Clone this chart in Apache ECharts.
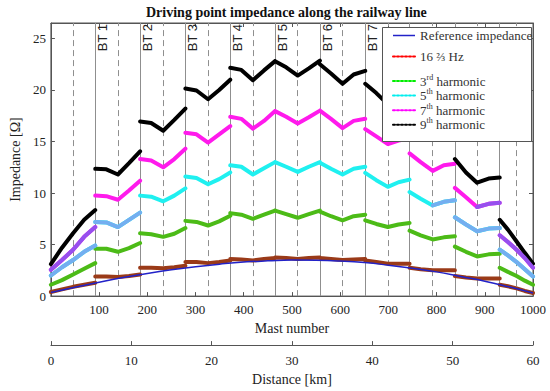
<!DOCTYPE html>
<html>
<head>
<meta charset="utf-8">
<script src="https://cdn.jsdelivr.net/npm/echarts@6/dist/echarts.min.js"></script>
<style>
html,body{margin:0;padding:0;background:#fff;}
#chart{width:550px;height:391px;}
</style>
</head>
<body>
<div id="chart"></div>
<script>
// ---- data ----
const masts = [
  [0, 23, 46, 69, 92],
  [92, 115, 139, 162, 185],
  [185, 208, 233, 256, 279],
  [279, 302, 326, 349, 372],
  [372, 395, 419, 442, 465],
  [465, 488, 512, 535, 558],
  [558, 581, 605, 628, 652],
  [652, 675, 699, 721, 744],
  [744, 767, 792, 815, 838],
  [838, 861, 884, 908, 931],
  [931, 948, 966, 983, 1000]
];
const btMasts = [92, 185, 279, 372, 465, 558, 652, 744, 838, 931];
const btLabels = ['BT 1', 'BT 2', 'BT 3', 'BT 4', 'BT 5', 'BT 6', 'BT 7', 'BT 8', 'BT 9', 'BT 10'];
const midMasts = [46, 139, 233, 326, 419, 512, 605, 699, 792, 884, 966];

const h9 = [
  [3.1, 4.7, 6.1, 7.4, 8.35],
  [12.35, 12.3, 11.8, 12.9, 14.05],
  [16.95, 16.8, 16.05, 17.1, 18.2],
  [20.15, 19.95, 19.1, 20.0, 21.0],
  [22.15, 21.95, 20.95, 21.9, 22.8],
  [22.8, 22.2, 21.4, 22.1, 22.85],
  [22.5, 21.6, 20.6, 21.5, 21.85],
  [20.6, 19.7, 18.6, 19.0, 19.2],
  [17.6, 16.5, 15.6, 15.9, 16.1],
  [13.3, 12.0, 11.0, 11.4, 11.5],
  [7.4, 6.45, 5.3, 4.2, 3.15]
];
const h7 = [
  [2.55, 3.5, 4.5, 5.75, 6.7],
  [9.75, 9.7, 9.35, 10.25, 11.2],
  [13.3, 13.15, 12.5, 13.3, 14.3],
  [15.85, 15.7, 14.9, 15.7, 16.5],
  [17.4, 17.2, 16.25, 17.0, 17.95],
  [17.95, 17.4, 16.75, 17.35, 18.0],
  [18.0, 17.2, 16.3, 17.0, 17.2],
  [16.2, 15.5, 14.75, 15.1, 15.3],
  [13.85, 13.0, 12.15, 12.7, 12.85],
  [10.5, 9.6, 8.65, 8.95, 9.05],
  [5.9, 5.25, 4.5, 3.7, 2.75]
];
const h5 = [
  [2.0, 2.8, 3.5, 4.3, 4.9],
  [7.2, 7.15, 6.7, 7.4, 8.1],
  [9.75, 9.65, 9.2, 9.75, 10.45],
  [11.6, 11.45, 10.85, 11.35, 12.0],
  [12.7, 12.55, 11.8, 12.4, 13.0],
  [13.0, 12.55, 12.05, 12.55, 13.0],
  [12.95, 12.35, 11.8, 12.35, 12.55],
  [11.95, 11.25, 10.6, 11.05, 11.3],
  [10.1, 9.45, 8.8, 9.15, 9.3],
  [7.65, 6.95, 6.3, 6.55, 6.6],
  [4.5, 3.95, 3.3, 2.6, 1.9]
];
const h3 = [
  [1.1, 1.55, 2.1, 2.65, 3.2],
  [4.6, 4.6, 4.3, 4.65, 5.15],
  [6.1, 6.0, 5.75, 6.05, 6.6],
  [7.3, 7.2, 6.85, 7.25, 7.8],
  [8.05, 7.9, 7.5, 7.9, 8.3],
  [8.3, 7.95, 7.6, 7.95, 8.3],
  [8.2, 7.75, 7.35, 7.75, 7.9],
  [7.35, 7.0, 6.7, 6.95, 7.1],
  [6.35, 5.9, 5.5, 5.7, 5.8],
  [4.8, 4.3, 3.85, 4.05, 4.1],
  [2.75, 2.35, 1.95, 1.5, 1.1]
];
const h1 = [
  [0.4, 0.65, 0.9, 1.1, 1.3],
  [1.9, 1.9, 1.85, 1.95, 2.1],
  [2.75, 2.75, 2.7, 2.8, 2.95],
  [3.3, 3.3, 3.2, 3.3, 3.45],
  [3.6, 3.55, 3.45, 3.6, 3.7],
  [3.75, 3.7, 3.6, 3.7, 3.75],
  [3.7, 3.6, 3.5, 3.55, 3.6],
  [3.45, 3.3, 3.15, 3.15, 3.15],
  [2.75, 2.6, 2.5, 2.5, 2.5],
  [1.95, 1.8, 1.7, 1.7, 1.7],
  [1.1, 0.95, 0.75, 0.5, 0.3]
];
const refMasts = [0, 50, 100, 150, 200, 250, 300, 350, 400, 450, 500, 550, 600, 650, 700, 750, 800, 850, 900, 950, 1000];
const refVals = [0.35, 0.85, 1.35, 1.8, 2.2, 2.55, 2.85, 3.1, 3.3, 3.42, 3.5, 3.48, 3.4, 3.25, 3.0, 2.7, 2.35, 1.9, 1.45, 0.9, 0.3];

const mastTicks = [0, 1000, 100];
const distTicks = [0, 60, 10];
const yTicks = [0, 26.5, 5];

// segments where the thick line looks blended with the blue reference
const blend5 = {0: 'all', 1: 'all', 8: 'late', 9: 'all', 10: 'all'};
const blend7 = {0: 'all', 9: 'late', 10: 'all'};

const names = ['Reference impedance', '16 ⅔ Hz', '3rd harmonic', '5th harmonic', '7th harmonic', '9th harmonic'];

// ---- build ----
function segData(vals, pick) {
  const out = [];
  masts.forEach((seg, i) => {
    const sel = pick ? pick[i] : 'all';
    if (!sel) return;
    const from = sel === 'late' ? 2 : 0;
    for (let k = from; k < seg.length; k++) out.push([seg[k], vals[i][k]]);
    out.push([seg[seg.length - 1], '-']);
  });
  return out;
}
const SERIF = '"Liberation Serif", "Times New Roman", serif';
const SANS = '"Liberation Sans", Arial, sans-serif';

function thick(name, vals, color, pick, z) {
  return {
    type: 'line', name: name, data: segData(vals, pick), symbol: 'none',
    showSymbol: false, connectNulls: false, animation: false, silent: true,
    lineStyle: {width: 4, color: color, cap: 'round', join: 'round'},
    itemStyle: {color: color}, z: z || 2
  };
}

const markData = [];
btMasts.forEach((m, i) => {
  markData.push({
    xAxis: m, name: btLabels[i],
    lineStyle: {type: 'solid', color: '#8f8f8f', width: 1},
    label: {show: i < 7}
  });
});
midMasts.forEach(m => {
  markData.push({
    xAxis: m,
    lineStyle: {type: [6, 4], color: '#8f8f8f', width: 1},
    label: {show: false}
  });
});

const series = [
  Object.assign(thick(names[1], h1, '#9a3a18'), {
    markLine: {
      z: 1, silent: true, symbol: ['none', 'none'], animation: false,
      label: {position: 'insideEndBottom', formatter: '{b}', fontFamily: SANS, fontSize: 13, color: '#222', distance: 1},
      data: markData
    }
  }),
  thick(names[2], h3, '#4cbb17'),
  thick(names[3], h5, '#1ff0f0'),
  thick(names[4], h7, '#ff1aec'),
  thick(names[5], h9, '#000000'),
  thick('blend5', h5, '#74aef0', blend5, 3),
  thick('blend7', h7, '#9650ee', blend7, 3),
  {
    type: 'line', name: names[0], data: refMasts.map((m, i) => [m, refVals[i]]),
    symbol: 'none', smooth: true, animation: false, silent: true,
    lineStyle: {width: 1.5, color: '#2222c8'}, itemStyle: {color: '#2222c8'}, z: 4
  }
];

const legendStyle = [
  {color: '#2222c8', type: 'solid', width: 1.5},
  {color: '#ff0000', type: [2, 2], width: 2},
  {color: '#00ee00', type: [2, 2], width: 2},
  {color: '#00eeee', type: [2, 2], width: 2},
  {color: '#ff00ff', type: [2, 2], width: 2},
  {color: '#000000', type: [2, 2], width: 2}
];
const legendText = {};
legendText[names[0]] = '{a|Reference impedance}';
legendText[names[1]] = '{a|16 }{g|⅔}{a| Hz}';
legendText[names[2]] = '{n|3}{t|rd}{n| harmonic}';
legendText[names[3]] = '{n|5}{t|th}{n| harmonic}';
legendText[names[4]] = '{n|7}{t|th}{n| harmonic}';
legendText[names[5]] = '{n|9}{t|th}{n| harmonic}';

const base = {fontFamily: SERIF, fontSize: 13, color: '#333', verticalAlign: 'middle'};
const rich = {
  a: Object.assign({}, base, {lineHeight: 14}),
  g: Object.assign({}, base, {fontSize: 12, lineHeight: 14}),
  n: Object.assign({}, base, {lineHeight: 16}),
  t: Object.assign({}, base, {fontSize: 8, lineHeight: 16, verticalAlign: 'top'})
};
function legendPart(items, top, gap, h) {
  return {
    orient: 'vertical', left: 382, top: top,
    padding: [0, 0, 0, 10], itemGap: gap, itemWidth: 22, itemHeight: h,
    itemStyle: {opacity: 0}, selectedMode: false, z: 5,
    data: items.map(i => ({name: names[i], lineStyle: legendStyle[i], itemStyle: {opacity: 0}})),
    formatter: name => legendText[name],
    textStyle: {fontFamily: SERIF, fontSize: 13, color: '#333', rich: rich}
  };
}

const axisCol = '#555';
const option = {
  animation: false,
  backgroundColor: '#fff',
  title: {
    text: 'Driving point impedance along the railway line',
    left: 146, top: 5, padding: 0,
    textStyle: {fontFamily: SERIF, fontWeight: 'bold', fontSize: 14, color: '#111'}
  },
  grid: {left: 46, right: 17, top: 23, bottom: 94, show: true, borderColor: axisCol, borderWidth: 1, backgroundColor: 'transparent'},
  graphic: [{
    type: 'rect', z: 3, silent: true,
    shape: {x: 382.5, y: 27.5, width: 149, height: 114},
    style: {fill: '#fff', stroke: axisCol, lineWidth: 1}
  }],
  legend: [
    legendPart([0, 1], 29, 8, 14),
    legendPart([2, 3, 4, 5], 73, 0, 16.5)
  ],
  xAxis: [
    {
      type: 'value', min: mastTicks[0], max: mastTicks[1], interval: mastTicks[2], position: 'bottom',
      name: 'Mast number', nameLocation: 'middle', nameGap: 22,
      nameTextStyle: {fontFamily: SERIF, fontSize: 14, color: '#222'},
      axisLine: {onZero: false, lineStyle: {color: axisCol}},
      axisTick: {inside: true, length: 4, lineStyle: {color: axisCol}},
      axisLabel: {fontFamily: SERIF, fontSize: 13, color: '#222', margin: 7, showMinLabel: false, formatter: v => String(v)},
      splitLine: {show: false}
    },
    {
      type: 'value', min: distTicks[0], max: distTicks[1], interval: distTicks[2], position: 'bottom', offset: 49,
      name: 'Distance [km]', nameLocation: 'middle', nameGap: 25,
      nameTextStyle: {fontFamily: SERIF, fontSize: 14, color: '#222'},
      axisLine: {show: true, onZero: false, lineStyle: {color: axisCol}},
      axisTick: {show: true, inside: true, length: 4, lineStyle: {color: axisCol}},
      axisLabel: {fontFamily: SERIF, fontSize: 13, color: '#222', margin: 9, formatter: v => String(v)},
      splitLine: {show: false}
    },
    {
      type: 'value', min: mastTicks[0], max: mastTicks[1], interval: mastTicks[2], position: 'top',
      axisLine: {onZero: false, lineStyle: {color: axisCol}},
      axisTick: {inside: true, length: 4, lineStyle: {color: axisCol}},
      axisLabel: {show: false}, splitLine: {show: false}
    }
  ],
  yAxis: [
    {
      type: 'value', min: yTicks[0], max: yTicks[1], interval: yTicks[2], position: 'left',
      name: 'Impedance [Ω]', nameLocation: 'middle', nameGap: 26, nameRotate: 90,
      nameTextStyle: {fontFamily: SERIF, fontSize: 14, color: '#222'},
      axisLine: {show: true, onZero: false, lineStyle: {color: axisCol}},
      axisTick: {show: true, inside: true, length: 4, lineStyle: {color: axisCol}},
      axisLabel: {fontFamily: SERIF, fontSize: 13, color: '#222', margin: 5, showMaxLabel: false},
      splitLine: {show: false}
    },
    {
      type: 'value', min: yTicks[0], max: yTicks[1], interval: yTicks[2], position: 'right',
      axisLine: {show: true, onZero: false, lineStyle: {color: axisCol}},
      axisTick: {show: true, inside: true, length: 4, lineStyle: {color: axisCol}},
      axisLabel: {show: false}, splitLine: {show: false}
    }
  ],
  series: series
};

const chart = echarts.init(document.getElementById('chart'), null, {renderer: 'svg'});
chart.setOption(option);
</script>
</body>
</html>
